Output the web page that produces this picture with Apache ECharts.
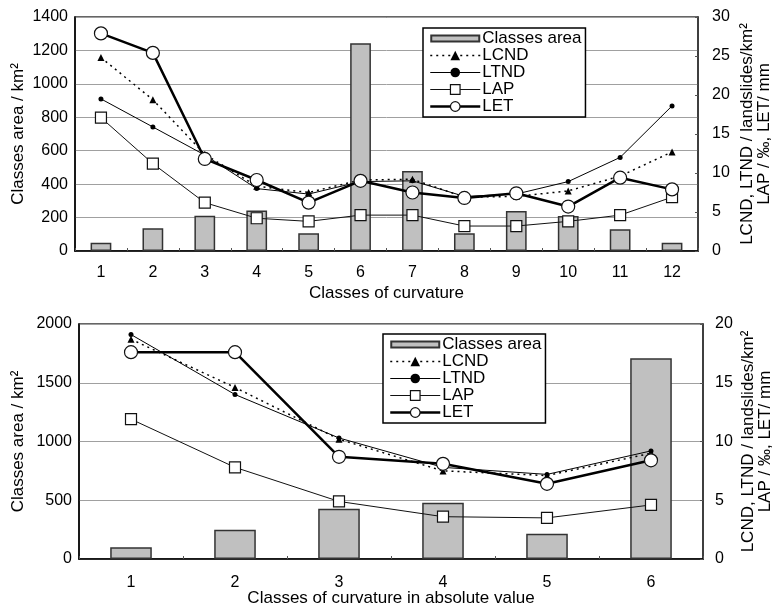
<!DOCTYPE html>
<html>
<head>
<meta charset="utf-8">
<script src="https://cdn.jsdelivr.net/npm/echarts@6/dist/echarts.min.js"></script>
<style>
html,body{margin:0;padding:0;background:#fff;}
#chart{width:774px;height:612px;}
</style>
</head>
<body>
<div id="chart"></div>
<script>
// ---- Top chart: classes of curvature ----
const categoriesTop = ['1','2','3','4','5','6','7','8','9','10','11','12'];
const areaTop = [50,136,211,243,106,1243,479,106,239,209,130,50];
const lcndTop = [24.8,19.4,12.4,8.3,7.5,9.1,9.2,6.9,7.0,7.7,9.6,12.7];
const ltndTop = [19.5,15.9,12.3,8.0,7.3,8.9,9.0,7.0,7.3,8.9,12.0,18.6];
const lapTop  = [17.1,11.2,6.2,4.2,3.8,4.6,4.6,3.2,3.2,3.8,4.6,6.9];
const letTop  = [27.9,25.4,11.8,9.1,6.2,9.0,7.5,6.8,7.4,5.7,9.4,7.9];

// ---- Bottom chart: classes of curvature in absolute value ----
const categoriesBottom = ['1','2','3','4','5','6'];
const areaBottom = [99,250,427,479,214,1709];
const lcndBottom = [18.7,14.6,10.2,7.5,7.1,9.0];
const ltndBottom = [19.1,14.0,10.3,7.8,7.2,9.2];
const lapBottom  = [11.9,7.8,4.9,3.6,3.5,4.6];
const letBottom  = [17.6,17.6,8.7,8.1,6.4,8.4];

const xTitleTop = 'Classes of curvature';
const xTitleBottom = 'Classes of curvature in absolute value';
const leftTitle = 'Classes area / km²';
const rightTitle = 'LCND, LTND / landslides/km²\nLAP / ‰, LET/ mm';

const FONT = 'Liberation Sans, Arial, sans-serif';
const plain = v => String(v);

function xAxis(gridIndex, data, name, gap, labelMargin){
  return {
    type:'category', gridIndex, data, name, nameLocation:'middle', nameGap:gap, nameMoveOverlap:false,
    nameTextStyle:{fontFamily:FONT,fontSize:17,color:'#000',verticalAlign:'top'},
    axisLine:{show:true,lineStyle:{color:'#000',width:1.5}},
    axisTick:{show:true,inside:true,length:3,lineStyle:{color:'#555'}},
    axisLabel:{fontFamily:FONT,fontSize:16,color:'#000',margin:labelMargin},
    splitLine:{show:false}
  };
}
function yLeft(gridIndex, max, interval, gap){
  return {
    type:'value', gridIndex, min:0, max, interval, position:'left',
    name:leftTitle, nameLocation:'middle', nameGap:gap, nameRotate:90, nameMoveOverlap:false,
    nameTextStyle:{fontFamily:FONT,fontSize:17,color:'#000'},
    axisLine:{show:true,lineStyle:{color:'#000',width:1.5}},
    axisTick:{show:false},
    axisLabel:{fontFamily:FONT,fontSize:16,color:'#000',margin:7,formatter:plain},
    splitLine:{show:true,lineStyle:{color:'#a0a0a0',width:1}}
  };
}
function yRight(gridIndex, max, interval, gap, margin){
  return {
    type:'value', gridIndex, min:0, max, interval, position:'right',
    name:rightTitle, nameLocation:'middle', nameGap:gap, nameRotate:90, nameMoveOverlap:false,
    nameTextStyle:{fontFamily:FONT,fontSize:17,color:'#000',lineHeight:17,align:'center'},
    axisLine:{show:true,lineStyle:{color:'#333',width:1.5}},
    axisTick:{show:true,inside:true,length:3,lineStyle:{color:'#555'}},
    axisLabel:{fontFamily:FONT,fontSize:16,color:'#000',margin,formatter:plain},
    splitLine:{show:false}
  };
}
function seriesSet(xi, yl, yr, area, lcnd, ltnd, lap, let_){
  return [
    {name:'Classes area',type:'bar',xAxisIndex:xi,yAxisIndex:yl,data:area,barWidth:'40%',
     itemStyle:{color:'#c0c0c0',borderColor:'#333',borderWidth:1.5},z:2},
    {name:'LCND',type:'line',xAxisIndex:xi,yAxisIndex:yr,data:lcnd,symbol:'triangle',symbolSize:7,
     lineStyle:{color:'#000',width:1.5,type:[2,4]},itemStyle:{color:'#000'},z:3},
    {name:'LTND',type:'line',xAxisIndex:xi,yAxisIndex:yr,data:ltnd,symbol:'circle',symbolSize:5,
     lineStyle:{color:'#000',width:1},itemStyle:{color:'#000'},z:4},
    {name:'LAP',type:'line',xAxisIndex:xi,yAxisIndex:yr,data:lap,symbol:'rect',symbolSize:11,
     lineStyle:{color:'#111',width:1},itemStyle:{color:'#fff',borderColor:'#111',borderWidth:1.2},z:5},
    {name:'LET',type:'line',xAxisIndex:xi,yAxisIndex:yr,data:let_,symbol:'circle',symbolSize:13,
     lineStyle:{color:'#000',width:2.5},itemStyle:{color:'#fff',borderColor:'#111',borderWidth:1.2},z:6}
  ];
}
function legend(left, top){
  return {
    left, top, orient:'vertical', itemWidth:50, itemHeight:12, itemGap:0,
    padding:[2,4,2,6], borderColor:'#000', borderWidth:1.5, backgroundColor:'#fff',
    textStyle:{fontFamily:FONT,fontSize:17,color:'#000',lineHeight:16.5,padding:[0,0,0,-3]},
    data:[
      {name:'Classes area',icon:'path://M0,0M50,12M1,3L49,3L49,9L1,9Z'},
      {name:'LCND',lineStyle:{width:1.5,type:[2,4]}},
      {name:'LTND',lineStyle:{width:1}},
      {name:'LAP',lineStyle:{width:1},itemStyle:{borderWidth:1.2}},
      {name:'LET',lineStyle:{width:2.5},itemStyle:{borderWidth:1.2}}
    ]
  };
}

const chart = echarts.init(document.getElementById('chart'));
chart.setOption({
  animation:false,
  backgroundColor:'#fff',
  grid:[
    {left:75,top:17,width:623,height:234,show:true,borderColor:'#333',borderWidth:1.5,backgroundColor:'transparent',outerBoundsMode:'none',containLabel:false},
    {left:79,top:324,width:624,height:235,show:true,borderColor:'#333',borderWidth:1.5,backgroundColor:'transparent',outerBoundsMode:'none',containLabel:false}
  ],
  legend:[legend(423,28),legend(383,334)],
  xAxis:[xAxis(0,categoriesTop,xTitleTop,34,14),xAxis(1,categoriesBottom,xTitleBottom,31,16)],
  yAxis:[yLeft(0,1400,200,48),yRight(0,30,5,41,14),yLeft(1,2000,500,52),yRight(1,20,5,37,12)],
  series:[].concat(
    seriesSet(0,0,1,areaTop,lcndTop,ltndTop,lapTop,letTop),
    seriesSet(1,2,3,areaBottom,lcndBottom,ltndBottom,lapBottom,letBottom)
  )
});
</script>
</body>
</html>
